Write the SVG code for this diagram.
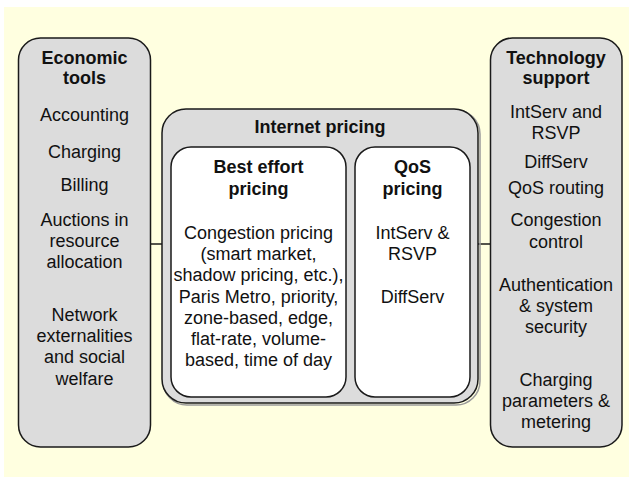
<svg xmlns="http://www.w3.org/2000/svg" width="629" height="477" viewBox="0 0 629 477">
  <style>
    .panel { fill: #dcdcdc; stroke: #1a1a1a; stroke-width: 1.5; }
    .inner { fill: #ffffff; stroke: #1a1a1a; stroke-width: 1.5; }
    .link { stroke: #1a1a1a; stroke-width: 1.5; fill: none; }
    text { font-family: "Liberation Sans", Arial, sans-serif; font-size: 18px; fill: #111; text-anchor: middle; }
    .title { font-weight: bold; }
  </style>

  <!-- page background -->
  <rect x="0" y="0" width="629" height="477" fill="#ffffff"/>
  <rect x="4" y="7" width="625" height="470" fill="#ffffe0"/>

  <!-- connectors between the side panels and the central panel -->
  <g id="connectors">
    <line class="link" x1="150.5" y1="244" x2="162" y2="244"/>
    <line class="link" x1="478" y1="244" x2="490.5" y2="244"/>
  </g>

  <!-- left panel -->
  <g id="economic-tools">
    <rect class="panel" x="18.5" y="38" width="132" height="409" rx="22"/>
    <text class="title" x="84.5" y="64">Economic</text>
    <text class="title" x="84.5" y="84">tools</text>
    <text x="84.5" y="121">Accounting</text>
    <text x="84.5" y="158">Charging</text>
    <text x="84.5" y="191">Billing</text>
    <text x="84.5" y="226">Auctions in</text>
    <text x="84.5" y="247">resource</text>
    <text x="84.5" y="268">allocation</text>
    <text x="84.5" y="321">Network</text>
    <text x="84.5" y="342">externalities</text>
    <text x="84.5" y="363">and social</text>
    <text x="84.5" y="385">welfare</text>
  </g>

  <!-- central panel -->
  <g id="internet-pricing">
    <rect x="163" y="110" width="317" height="295" rx="24" fill="none" stroke="#9a9a9a" stroke-width="1.5"/>
    <rect class="panel" x="162" y="109" width="316" height="294" rx="24"/>
    <text class="title" x="320" y="133">Internet pricing</text>
  </g>

  <g id="best-effort-pricing">
    <rect class="inner" x="171" y="147" width="175" height="250" rx="20"/>
    <text class="title" x="258.5" y="173">Best effort</text>
    <text class="title" x="258.5" y="195">pricing</text>
    <text x="258.5" y="239">Congestion pricing</text>
    <text x="258.5" y="260">(smart market,</text>
    <text x="258.5" y="281">shadow pricing, etc.),</text>
    <text x="258.5" y="303">Paris Metro, priority,</text>
    <text x="258.5" y="324">zone-based, edge,</text>
    <text x="258.5" y="345">flat-rate, volume-</text>
    <text x="258.5" y="366">based, time of day</text>
  </g>

  <g id="qos-pricing">
    <rect class="inner" x="355" y="147" width="115" height="250" rx="20"/>
    <text class="title" x="412.5" y="173">QoS</text>
    <text class="title" x="412.5" y="195">pricing</text>
    <text x="412.5" y="239">IntServ &amp;</text>
    <text x="412.5" y="260">RSVP</text>
    <text x="412.5" y="303">DiffServ</text>
  </g>

  <!-- right panel -->
  <g id="technology-support">
    <rect class="panel" x="490.5" y="38" width="131.5" height="409" rx="22"/>
    <text class="title" x="556" y="64">Technology</text>
    <text class="title" x="556" y="84">support</text>
    <text x="556" y="118">IntServ and</text>
    <text x="556" y="139">RSVP</text>
    <text x="556" y="168">DiffServ</text>
    <text x="556" y="194">QoS routing</text>
    <text x="556" y="226">Congestion</text>
    <text x="556" y="248">control</text>
    <text x="556" y="291">Authentication</text>
    <text x="556" y="312">&amp; system</text>
    <text x="556" y="333">security</text>
    <text x="556" y="386">Charging</text>
    <text x="556" y="407">parameters &amp;</text>
    <text x="556" y="428">metering</text>
  </g>
</svg>
